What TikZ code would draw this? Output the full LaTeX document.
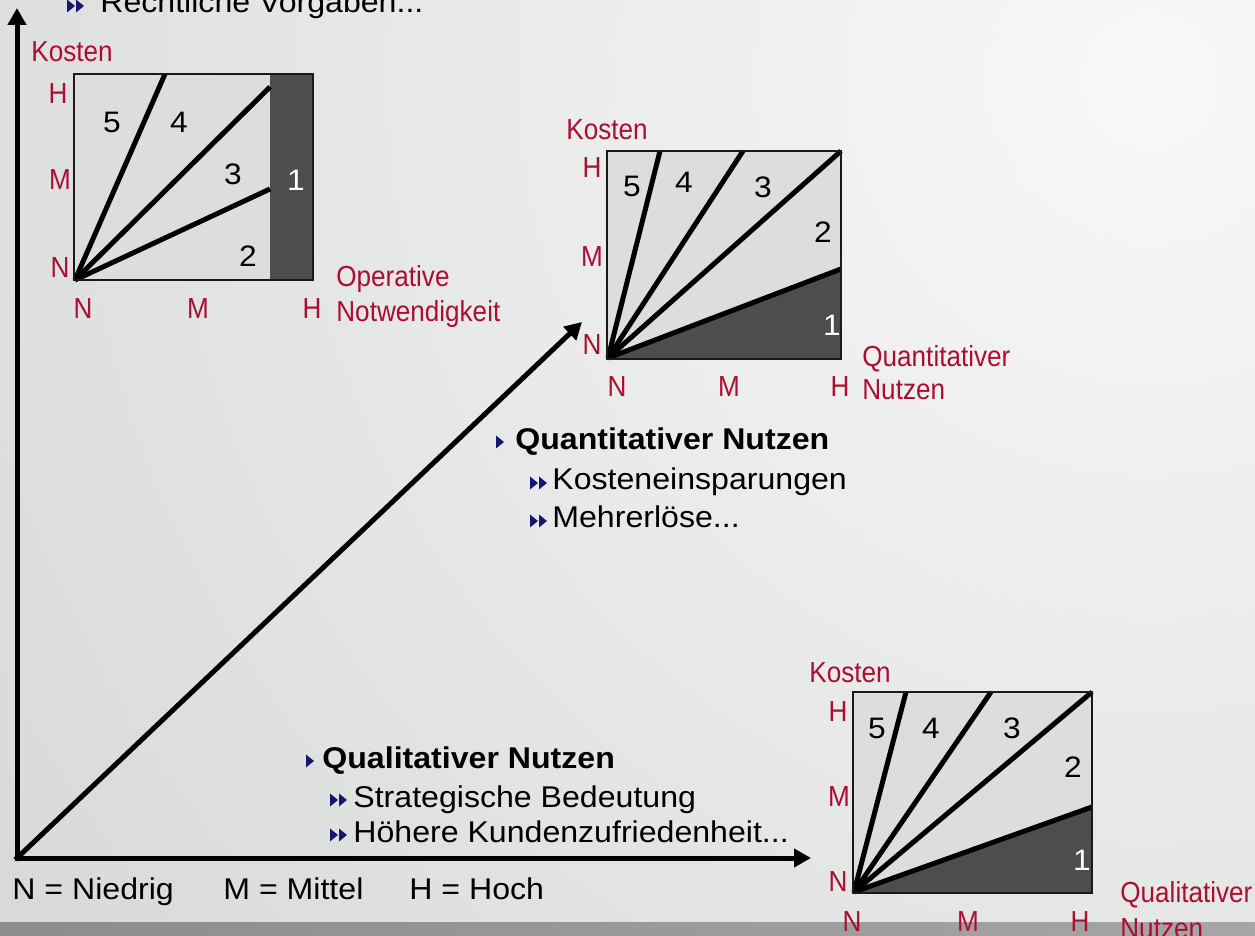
\documentclass[tikz,border=0pt]{standalone}
\usepackage{fontspec}
\setmainfont[FakeStretch=1.07]{Liberation Sans}
\newfontfamily\narrowfont[FakeStretch=0.9]{Liberation Sans}
\usetikzlibrary{arrows.meta}
\definecolor{kred}{RGB}{172,14,50}
\definecolor{navyb}{RGB}{22,22,110}
\definecolor{lightf}{RGB}{221,221,221}
\definecolor{darkf}{RGB}{77,77,77}
\definecolor{bgin}{RGB}{248,248,248}
\definecolor{bgout}{RGB}{184,188,188}
\begin{document}
\begin{tikzpicture}[x=0.5pt,y=-0.5pt,
	lab/.style={text=kred,font=\narrowfont\fontsize{14.5}{16}\selectfont,inner sep=0pt},
	num/.style={font=\fontsize{14.8}{16}\selectfont,inner sep=0pt},
	txt/.style={anchor=base west,inner sep=0pt,font=\fontsize{15}{18}\selectfont},
	ax/.style={line width=2.5pt,line cap=rect,-{Triangle[length=8.5pt,width=9pt]}},
	ray/.style={line width=2.5pt},
	frame/.style={draw=black!90,line width=0.8pt},
	tri/.pic={\fill[navyb] (0,-6.5)--(8,0)--(0,6.5)--cycle;},
	dtri/.pic={\fill[navyb] (0,-6.5)--(8,0)--(0,6.5)--cycle (9,-6.5)--(17,0)--(9,6.5)--cycle;}]
	\useasboundingbox (0,0) rectangle (1255,936);
	\clip (0,0) rectangle (1255,936);
	% background
	\shade[inner color=bgin,outer color=bgout] (1150,80) circle (2800);
	\shade[left color=black!45,right color=black!35] (0,922) rectangle (1255,936);
	% chart: operative Notwendigkeit
	\fill[lightf] (74,74) rectangle (313,280);
	\fill[darkf] (270,74) rectangle (313,280);
	\coordinate (a0) at (75,280);
	\foreach \p in {(165,74),(270,87),(270,189)} \draw[ray] (a0) -- \p;
	\draw[frame] (74,74) rectangle (313,280);
	\foreach \s/\x/\y in {5/112/122,4/179/122,3/233/174,2/248/256} \node[num] (a\s) at (\x,\y) {\s};
	\node[num,text=white] (a1) at (296,180) {1};
	\foreach \s/\x/\y [count=\i] in {H/58/94,M/60/180,N/60/268,N/83/309,M/198/309,H/312/309} \node[lab] (al\i) at (\x,\y) {\s};
	\node[lab] (ak) at (72,52) {Kosten};
	\node[lab,anchor=base west] (ao) at (336,287) {Operative};
	\node[lab,anchor=base west] (an) at (336,322) {Notwendigkeit};
	% chart: quantitativer Nutzen
	\fill[lightf] (607,151) rectangle (841,359);
	\fill[darkf] (607,359) -- (841,269) -- (841,359) -- cycle;
	\coordinate (b0) at (608,358);
	\foreach \p in {(660,151),(743,151),(841,151),(841,269)} \draw[ray] (b0) -- \p;
	\draw[frame] (607,151) rectangle (841,359);
	\foreach \s/\x/\y in {5/632/186,4/684/182,3/763/187,2/823/232} \node[num] (b\s) at (\x,\y) {\s};
	\node[num,text=white] (b1) at (832,325) {1};
	\foreach \s/\x/\y [count=\i] in {H/592/168,M/592/257,N/592/345,N/617/387,M/729/387,H/840/387} \node[lab] (bl\i) at (\x,\y) {\s};
	\node[lab] (bk) at (607,130) {Kosten};
	\node[lab,anchor=base west] (bq) at (862,367) {Quantitativer};
	\node[lab,anchor=base west] (bn) at (862,400) {Nutzen};
	% chart: qualitativer Nutzen
	\fill[lightf] (853,692) rectangle (1092,893);
	\fill[darkf] (853,893) -- (1092,807) -- (1092,893) -- cycle;
	\coordinate (c0) at (854,892);
	\foreach \p in {(906,692),(991,692),(1092,692),(1092,807)} \draw[ray] (c0) -- \p;
	\draw[frame] (853,692) rectangle (1092,893);
	\foreach \s/\x/\y in {5/877/728,4/931/728,3/1012/728,2/1073/767} \node[num] (c\s) at (\x,\y) {\s};
	\node[num,text=white] (c1) at (1082,860) {1};
	\foreach \s/\x/\y [count=\i] in {H/838/712,M/839/797,N/838/882,N/852/922,M/968/922,H/1080/922} \node[lab] (cl\i) at (\x,\y) {\s};
	\node[lab] (ck) at (850,673) {Kosten};
	\node[lab,anchor=base west] (cq) at (1120,902) {Qualitativer};
	\node[lab,anchor=base west] (cn) at (1120,938) {Nutzen};
	% axes
	\coordinate (o) at (17,858);
	\coordinate (ytip) at (17,8);
	\coordinate (xtip) at (811,858);
	\coordinate (dtip) at (582,322);
	\draw[ax] (o) -- (ytip);
	\draw[ax] (o) -- (xtip);
	\draw[ax] (o) -- (dtip);
	% texts
	\node[txt] (rv) at (100,13) {Rechtliche Vorgaben...};
	\node[txt] (qn) at (515,450) {\bfseries Quantitativer Nutzen};
	\node[txt] (ke) at (552,490) {Kosteneinsparungen};
	\node[txt] (me) at (552,528) {Mehrerlöse...};
	\node[txt] (ql) at (322,769) {\bfseries Qualitativer Nutzen};
	\node[txt] (sb) at (353,807) {Strategische Bedeutung};
	\node[txt] (hk) at (353,842) {Höhere Kundenzufriedenheit...};
	\node[txt] (nn) at (12,899) {N = Niedrig};
	\node[txt] (mm) at (223,899) {M = Mittel};
	\node[txt] (hh) at (409,899) {H = Hoch};
	\pic at ([shift={(-33,-7)}]rv.base west) {dtri};
	\pic at ([shift={(-19,-8)}]qn.base west) {tri};
	\foreach \n in {ke,me} \pic at ([shift={(-22,-7)}]\n.base west) {dtri};
	\pic at ([shift={(-16,-8)}]ql.base west) {tri};
	\foreach \n in {sb,hk} \pic at ([shift={(-23,-7)}]\n.base west) {dtri};
\end{tikzpicture}
\end{document}
